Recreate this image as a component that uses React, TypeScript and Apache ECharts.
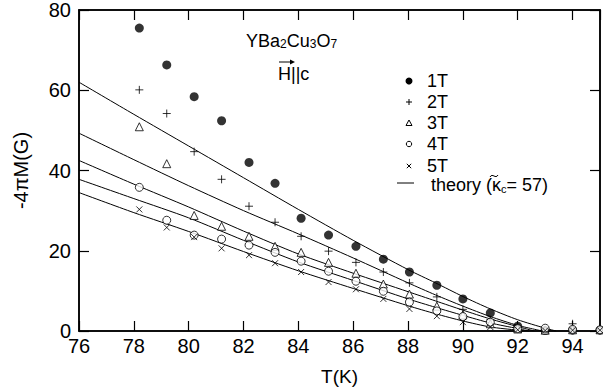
import React, { useEffect, useRef } from 'react';
import * as echarts from 'echarts';

// Measured temperatures (K)
const temps = [78.2, 79.2, 80.2, 81.2, 82.2, 83.15, 84.1, 85.1, 86.1, 87.1, 88.05, 89.05, 90.0, 91.0, 92.0, 93.0, 94.0, 95.0];

// -4πM (G) for each field
const m1T = [75.5, 66.3, 58.4, 52.4, 42.0, 36.8, 28.1, 23.9, 21.1, 17.9, 14.7, 11.4, 8.0, 4.5, 1.2, 0.1, 0.2, 0.2];
const m2T = [60.1, 54.2, 44.7, 37.8, 31.1, 27.1, 23.6, 19.9, 17.1, 14.7, 12.0, 8.5, 5.4, 2.8, 0.9, 0.3, 1.8, 0.6];
const m3T = [50.9, 41.7, 28.8, 26.1, 23.6, 21.1, 19.6, 17.1, 14.4, 11.7, 9.2, 6.2, 4.0, 1.8, 0.5, 0.2, 0.3, 0.3];
const m4T = [35.8, 27.6, 23.9, 22.9, 21.4, 19.6, 17.4, 14.9, 12.4, 9.9, 7.2, 5.0, 3.6, 2.2, 0.6, 0.7, 0.4, 0.3];
const m5T = [30.3, 25.8, 23.4, 20.6, 18.9, 16.9, 14.7, 12.2, 10.4, 8.0, 5.5, 3.7, 2.2, 1.0, 0.3, 0.1, 0.2, 0.2];

// Theory curves (κc = 57)
const th1T_T = [76, 78, 80, 82, 84, 86, 88, 89, 90, 91, 92, 93, 93.4];
const th1T_M = [62.0, 54.0, 46.1, 38.2, 30.3, 22.6, 15.3, 12.0, 8.6, 5.5, 2.8, 0.7, 0];
const th2T_T = [76, 78, 80, 82, 84, 86, 88, 89, 90, 91, 92, 92.9];
const th2T_M = [49.3, 42.7, 36.2, 30.0, 24.2, 18.2, 12.0, 9.0, 6.2, 3.6, 1.4, 0];
const th3T_T = [76, 78, 80, 82, 84, 86, 88, 89, 90, 91, 92, 92.6];
const th3T_M = [42.5, 36.6, 30.9, 24.9, 19.2, 14.4, 9.8, 7.5, 5.2, 3.0, 1.1, 0];
const th4T_T = [76, 78, 80, 82, 84, 86, 88, 89, 90, 91, 92, 92.4];
const th4T_M = [37.8, 33.0, 28.2, 22.6, 17.2, 12.6, 8.0, 5.9, 3.9, 2.0, 0.6, 0];
const th5T_T = [76, 78, 80, 82, 84, 86, 88, 89, 90, 91, 92, 92.2];
const th5T_M = [34.5, 29.5, 24.8, 19.8, 15.0, 10.6, 6.3, 4.3, 2.5, 1.0, 0.2, 0];

const xTickLabels = ['76', '78', '80', '82', '84', '86', '88', '90', '92', '94'];
const yTickLabels = ['0', '20', '40', '60', '80'];

const legendLabels = ['1T', '2T', '3T', '4T', '5T'];

const FONT = "'Liberation Sans', Arial, sans-serif";
const INK = '#000';

const zip = (a: number[], b: number[]) => a.map((v, i) => [v, b[i]]);

const PLUS = 'path://M5,0L5,10M0,5L10,5';
const CROSS = 'path://M0,0L10,10M10,0L0,10';

const mkLine = () => ({ show: true, onZero: false, lineStyle: { color: INK, width: 1.5 } });
const mkTick = () => ({ show: true, inside: true, length: 10, lineStyle: { color: INK, width: 1.2 } });

export default function App() {
  const ref = useRef<HTMLDivElement>(null);

  useEffect(() => {
    if (!ref.current) return;
    const chart = echarts.init(ref.current, undefined, { renderer: 'svg' });

    const theory = [
      zip(th1T_T, th1T_M),
      zip(th2T_T, th2T_M),
      zip(th3T_T, th3T_M),
      zip(th4T_T, th4T_M),
      zip(th5T_T, th5T_M),
    ].map((d) => ({
      type: 'line',
      data: d,
      smooth: 0.25,
      symbol: 'none',
      silent: true,
      lineStyle: { color: INK, width: 1 },
    }));

    const scat = (name: string, d: number[], symbol: string, size: number, itemStyle: any) => ({
      type: 'scatter',
      name,
      data: zip(temps, d),
      symbol,
      symbolSize: size,
      z: 3,
      itemStyle,
    });

    const lx = 409;
    const ly = [81, 102, 123, 144, 166, 183];

    const graphic: any[] = [
      {
        type: 'text',
        left: 246,
        top: 32,
        style: {
          text: '{a|YBa}{s|2}{a|Cu}{s|3}{a|O}{s|7}',
          fill: INK,
          font: `18px ${FONT}`,
          rich: {
            a: { fontSize: 18, fontFamily: FONT, lineHeight: 22, verticalAlign: 'bottom' },
            s: { fontSize: 12, fontFamily: FONT, lineHeight: 12, verticalAlign: 'bottom', padding: [6, 0, 0, 0] },
          },
        },
      },
      {
        type: 'text',
        x: 278,
        y: 74,
        style: { text: 'H||c', fill: INK, font: `18px ${FONT}`, verticalAlign: 'middle', align: 'left' },
      },
      { type: 'line', shape: { x1: 279, y1: 62, x2: 292, y2: 62 }, style: { stroke: INK, lineWidth: 1 } },
      { type: 'polygon', shape: { points: [[290, 59.5], [295, 62], [290, 64.5]] }, style: { fill: INK } },
      { type: 'circle', shape: { cx: lx, cy: ly[0], r: 3.5 }, style: { fill: '#000' } },
      { type: 'line', shape: { x1: lx - 3, y1: ly[1], x2: lx + 3, y2: ly[1] }, style: { stroke: INK, lineWidth: 1 } },
      { type: 'line', shape: { x1: lx, y1: ly[1] - 3, x2: lx, y2: ly[1] + 3 }, style: { stroke: INK, lineWidth: 1 } },
      {
        type: 'polygon',
        shape: { points: [[lx, ly[2] - 3], [lx + 3, ly[2] + 2.5], [lx - 3, ly[2] + 2.5]] },
        style: { fill: '#fff', stroke: INK, lineWidth: 1 },
      },
      { type: 'circle', shape: { cx: lx, cy: ly[3], r: 2.7 }, style: { fill: '#fff', stroke: INK, lineWidth: 1 } },
      { type: 'line', shape: { x1: lx - 2.2, y1: ly[4] - 2.2, x2: lx + 2.2, y2: ly[4] + 2.2 }, style: { stroke: INK, lineWidth: 1 } },
      { type: 'line', shape: { x1: lx + 2.2, y1: ly[4] - 2.2, x2: lx - 2.2, y2: ly[4] + 2.2 }, style: { stroke: INK, lineWidth: 1 } },
      { type: 'line', shape: { x1: 397, y1: ly[5], x2: 414, y2: ly[5] }, style: { stroke: INK, lineWidth: 1 } },
      ...legendLabels.map((t, i) => ({
        type: 'text',
        x: 427,
        y: ly[i],
        style: { text: t, fill: INK, font: `18px ${FONT}`, verticalAlign: 'middle', align: 'left' },
      })),
      {
        type: 'text',
        x: 431,
        y: ly[5],
        style: {
          text: '{a|theory (κ}{s|c}{a|= 57)}',
          fill: INK,
          verticalAlign: 'middle',
          align: 'left',
          font: `18px ${FONT}`,
          rich: {
            a: { fontSize: 18, fontFamily: FONT, lineHeight: 22, verticalAlign: 'bottom' },
            s: { fontSize: 11, fontFamily: FONT, lineHeight: 11, verticalAlign: 'bottom', padding: [3, 0, 0, 0] },
          },
        },
      },
      {
        type: 'bezierCurve',
        shape: { x1: 490, y1: 177, cpx1: 492.5, cpy1: 172.5, cpx2: 495.5, cpy2: 179.5, x2: 498, y2: 175 },
        style: { stroke: INK, lineWidth: 1, fill: 'none' },
      },
    ];

    chart.setOption({
      animation: false,
      backgroundColor: '#fff',
      grid: {
        left: 79,
        right: 3,
        top: 10,
        bottom: 59,
        show: true,
        borderColor: INK,
        borderWidth: 1.5,
      },
      xAxis: [
        {
          type: 'value',
          min: 76,
          max: 95,
          interval: 2,
          axisLine: mkLine(),
          axisTick: mkTick(),
          axisLabel: {
            color: INK,
            fontFamily: FONT,
            fontSize: 20,
            margin: 5,
            showMaxLabel: false,
            formatter: (v: number) => {
              const s = String(v);
              return xTickLabels.includes(s) ? s : '';
            },
          },
          splitLine: { show: false },
          name: 'T(K)',
          nameLocation: 'middle',
          nameGap: 36,
          nameTextStyle: { color: INK, fontFamily: FONT, fontSize: 19 },
        },
        {
          type: 'value',
          position: 'top',
          min: 76,
          max: 95,
          interval: 2,
          axisLine: mkLine(),
          axisTick: mkTick(),
          axisLabel: { show: false },
          splitLine: { show: false },
        },
      ],
      yAxis: [
        {
          type: 'value',
          min: 0,
          max: 80,
          interval: 20,
          axisLine: mkLine(),
          axisTick: mkTick(),
          axisLabel: {
            color: INK,
            fontFamily: FONT,
            fontSize: 20,
            margin: 8,
            formatter: (v: number) => {
              const s = String(v);
              return yTickLabels.includes(s) ? s : '';
            },
          },
          splitLine: { show: false },
          name: '-4πM(G)',
          nameLocation: 'middle',
          nameRotate: 90,
          nameGap: 48,
          nameTextStyle: { color: INK, fontFamily: FONT, fontSize: 20 },
        },
        {
          type: 'value',
          position: 'right',
          min: 0,
          max: 80,
          interval: 20,
          axisLine: mkLine(),
          axisTick: mkTick(),
          axisLabel: { show: false },
          splitLine: { show: false },
        },
      ],
      series: [
        ...theory,
        scat('1T', m1T, 'circle', 9, { color: '#000' }),
        scat('2T', m2T, PLUS, 8, { color: 'transparent', borderColor: '#000', borderWidth: 1 }),
        scat('3T', m3T, 'triangle', 8, { color: '#fff', borderColor: '#000', borderWidth: 1 }),
        scat('4T', m4T, 'circle', 8, { color: '#fff', borderColor: '#000', borderWidth: 1 }),
        scat('5T', m5T, CROSS, 6, { color: 'transparent', borderColor: '#000', borderWidth: 1 }),
        { type: 'line', xAxisIndex: 1, yAxisIndex: 1, data: [], silent: true },
      ],
      graphic,
    });

    return () => chart.dispose();
  }, []);

  return (
    <div
      ref={ref}
      style={{ position: 'fixed', left: 0, top: 0, width: 603, height: 391, background: '#fff' }}
    />
  );
}
